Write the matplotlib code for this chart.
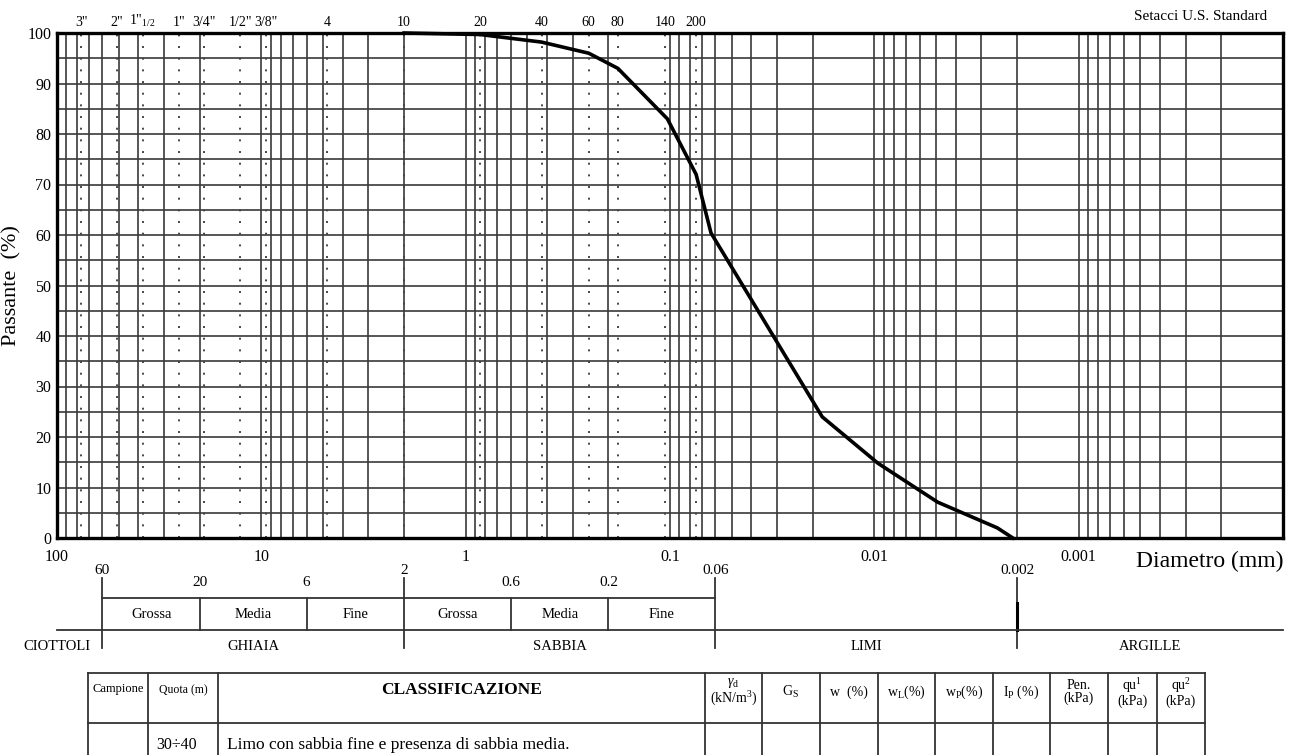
import numpy as np
import matplotlib
matplotlib.use("Agg")
import matplotlib.pyplot as plt
from matplotlib.ticker import LogLocator, NullFormatter, FixedLocator

plt.rcParams['font.family'] = ['Liberation Serif', 'DejaVu Serif']
plt.rcParams['mathtext.fontset'] = 'custom'
plt.rcParams['mathtext.rm'] = 'Liberation Serif'
plt.rcParams['mathtext.it'] = 'Liberation Serif:italic'

# granulometric curve (diameter mm, % passing)
diam = [2.0, 0.85, 0.425, 0.25, 0.18, 0.103, 0.0745, 0.063, 0.018, 0.0096, 0.0049, 0.0025, 0.0021]
passing = [100.0, 99.7, 98.2, 96.0, 93.0, 83.0, 72.0, 60.4, 24.0, 14.8, 7.1, 2.0, 0.0]

# US standard sieves
sieve_mm = [76.2, 50.8, 38.1, 25.4, 19.05, 12.7, 9.525, 4.75, 2.0, 0.85, 0.425, 0.25, 0.18, 0.106, 0.075]
sieve_lbl = ['3"', '2"', '1"$_{1/2}$', '1"', '3/4"', '1/2"', '3/8"', '4', '10', '20', '40', '60', '80', '140', '200']

xticks = [100, 10, 1, 0.1, 0.01, 0.001]
xtick_lbl = ['100', '10', '1', '0.1', '0.01', '0.001']

# AGI classification boundaries
main_bounds = [60, 2, 0.06, 0.002]
sub_bounds = [20, 6, 0.6, 0.2]
main_names = ['CIOTTOLI', 'GHIAIA', 'SABBIA', 'LIMI', 'ARGILLE']
main_pos = [100, np.sqrt(60 * 2), np.sqrt(2 * 0.06), np.sqrt(0.06 * 0.002), np.sqrt(0.002 * 0.0001)]
sub_edges = [60, 20, 6, 2, 0.6, 0.2, 0.06]
sub_names = ['Grossa', 'Media', 'Fine', 'Grossa', 'Media', 'Fine']

# table
col_x = [88, 148, 218, 705, 762, 820, 878, 935, 993, 1050, 1108, 1157, 1205]
head_txt = ['Campione', 'Quota (m)', 'CLASSIFICAZIONE', r'$\gamma_{\rm d}$' + '\n' + r'(kN/m$^3$)', r'G$_{\rm S}$',
            'w  (%)', r'w$_{\rm L}$(%)', r'w$_{\rm P}$(%)', r'I$_{\rm P}$ (%)', 'Pen.\n(kPa)',
            r'qu$^1$' + '\n(kPa)', r'qu$^2$' + '\n(kPa)']
row_quota = '30÷40'
row_class = 'Limo con sabbia fine e presenza di sabbia media.'

W, H = 1294, 755
fig = plt.figure(figsize=(W / 100, H / 100), dpi=100)
L, R, T, B = 57, 1283, 33, 538
ax = fig.add_axes([L / W, 1 - B / H, (R - L) / W, (B - T) / H])

gcol = '#3a3a3a'
ax.set_xscale('log')
ax.set_xlim(100, 1e-4)
ax.set_ylim(0, 100)
ax.xaxis.set_major_locator(FixedLocator(xticks))
ax.set_xticklabels(xtick_lbl)
ax.xaxis.set_minor_locator(LogLocator(base=10, subs=range(2, 10), numticks=30))
ax.xaxis.set_minor_formatter(NullFormatter())
ax.set_yticks(np.arange(0, 101, 10))
ax.set_yticks(np.arange(0, 101, 5), minor=True)
ax.tick_params(which='both', length=0)
ax.tick_params(axis='x', labelsize=11.5, pad=8)
ax.tick_params(axis='y', labelsize=11.5, pad=4)
ax.grid(which='both', color=gcol, lw=1.2)
for s in ax.spines.values():
    s.set_linewidth(2.4)
    s.set_color('black')

for d in sieve_mm:
    ax.axvline(d, color='#444444', lw=1.4, ls=(0, (1, 5)), zorder=2)

ax.plot(diam, passing, color='black', lw=2.6, zorder=5, clip_on=False)

ax.set_ylabel('Passante  (%)', fontsize=16, labelpad=4)

# sieve labels on top
top = ax.twiny()
top.set_xscale('log')
top.set_xlim(ax.get_xlim())
top.xaxis.set_major_locator(FixedLocator(sieve_mm))
top.xaxis.set_minor_locator(FixedLocator([]))
top.set_xticklabels(sieve_lbl)
top.tick_params(length=0, labelsize=10, pad=3)
for s in top.spines.values():
    s.set_visible(False)

fig.text(1267 / W, 1 - 16 / H, 'Setacci U.S. Standard', ha='right', va='center', fontsize=11)
fig.text(1283 / W, 1 - 561 / H, 'Diametro (mm)', ha='right', va='center', fontsize=17)

# classification band, same log scale as the chart
bd = fig.add_axes([L / W, 1 - 680 / H, (R - L) / W, 140 / H])
bd.set_xscale('log')
bd.set_xlim(100, 1e-4)
bd.set_ylim(680, 540)
bd.axis('off')
lc = '#333333'
for d in main_bounds:
    bd.plot([d, d], [578, 648], color=lc, lw=1.3, clip_on=False)
    bd.text(d, 571, f'{d:g}', ha='center', va='center', fontsize=11)
for d in sub_bounds:
    bd.plot([d, d], [598, 630], color=lc, lw=1.3, clip_on=False)
    bd.text(d, 583, f'{d:g}', ha='center', va='center', fontsize=11)
bd.plot([0.002, 0.002], [603, 630], color='black', lw=2.2)
bd.plot([60, 0.06], [598, 598], color=lc, lw=1.3)
bd.plot([100, 1e-4], [630, 630], color=lc, lw=1.3, clip_on=False)
for i, name in enumerate(sub_names):
    bd.text(np.sqrt(sub_edges[i] * sub_edges[i + 1]), 614, name, ha='center', va='center', fontsize=10.5)
for name, x in zip(main_names, main_pos):
    bd.text(x, 646, name, ha='center', va='center', fontsize=10.5, clip_on=False)

# data table
tb = fig.add_axes([0, 0, 1, 1])
tb.set_xlim(0, W)
tb.set_ylim(H, 0)
tb.axis('off')
tb.plot([col_x[0], col_x[-1]], [673, 673], color=lc, lw=1.3)
tb.plot([col_x[0], col_x[-1]], [723, 723], color=lc, lw=1.3)
for x in col_x:
    tb.plot([x, x], [673, 760], color=lc, lw=1.3)
for i, t in enumerate(head_txt):
    xc = (col_x[i] + col_x[i + 1]) / 2
    if t == 'CLASSIFICAZIONE':
        tb.text(xc, 690, t, ha='center', va='center', fontsize=12.5, fontweight='bold')
    elif t == 'Quota (m)':
        tb.text(xc, 690, t, ha='center', va='center', fontsize=8.5)
    elif t == 'Campione':
        tb.text(xc, 689, t, ha='center', va='center', fontsize=9)
    else:
        tb.text(xc, 692, t, ha='center', va='center', fontsize=10, linespacing=1.0)
tb.text(col_x[1] + 8, 745, row_quota, ha='left', va='center', fontsize=11.5)
tb.text(col_x[2] + 9, 745, row_class, ha='left', va='center', fontsize=12.5)

fig.savefig('out.png', dpi=100)
